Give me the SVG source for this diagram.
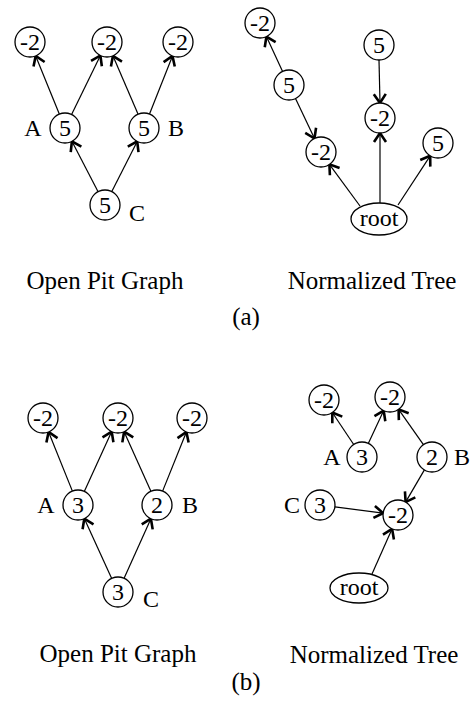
<svg xmlns="http://www.w3.org/2000/svg" width="471" height="706" viewBox="0 0 471 706">
<style>
.n{fill:#fff;stroke:#000;stroke-width:1.3}
.t{font-family:"Liberation Serif","Times New Roman",serif;font-size:24px;text-anchor:middle;fill:#000}
.lb{font-family:"Liberation Serif","Times New Roman",serif;font-size:24px;text-anchor:middle;fill:#000}
.cap{font-family:"Liberation Serif","Times New Roman",serif;font-size:25px;text-anchor:middle;fill:#000}
.e{stroke:#000;stroke-width:1.2;fill:none;marker-end:url(#ah)}
</style>
<defs>
<marker id="ah" markerUnits="userSpaceOnUse" markerWidth="16" markerHeight="16" refX="0" refY="0" viewBox="-12 -8 14 16" orient="auto">
<path d="M-9,-6 L0,0 L-9,6" fill="none" stroke="#000" stroke-width="2.6"/>
</marker>
</defs>
<rect width="471" height="706" fill="#fff"/>
<g id="connectors">
<line class="e" x1="59.3" y1="114.1" x2="35.7" y2="55.9"/>
<line class="e" x1="71.6" y1="114.5" x2="100.4" y2="55.5"/>
<line class="e" x1="138.1" y1="114.2" x2="112.9" y2="55.8"/>
<line class="e" x1="149.5" y1="114" x2="172.5" y2="56"/>
<line class="e" x1="98.1" y1="191.7" x2="71.9" y2="141.3"/>
<line class="e" x1="111.8" y1="191.6" x2="137.2" y2="141.4"/>
<line class="e" x1="282.6" y1="71.4" x2="266.4" y2="36.6"/>
<line class="e" x1="295.5" y1="98.5" x2="314.5" y2="138.5"/>
<line class="e" x1="379" y1="60" x2="380" y2="103"/>
<line class="e" x1="360" y1="206" x2="329.4" y2="164.4"/>
<line class="e" x1="380" y1="203" x2="380" y2="133"/>
<line class="e" x1="398" y1="205" x2="430.2" y2="155.8"/>
<line class="e" x1="72.4" y1="491.1" x2="48.6" y2="432"/>
<line class="e" x1="84.3" y1="491.4" x2="111.7" y2="431.6"/>
<line class="e" x1="150.9" y1="491.3" x2="124.1" y2="431.7"/>
<line class="e" x1="162.6" y1="491.1" x2="186.4" y2="432"/>
<line class="e" x1="111.7" y1="578.4" x2="84.3" y2="518.6"/>
<line class="e" x1="124.1" y1="578.3" x2="150.9" y2="518.7"/>
<line class="e" x1="353.7" y1="444.5" x2="332.3" y2="412.5"/>
<line class="e" x1="368.3" y1="443.4" x2="383.7" y2="410.6"/>
<line class="e" x1="423.4" y1="444.7" x2="398.6" y2="409.3"/>
<line class="e" x1="424.4" y1="469.9" x2="405.6" y2="502.1"/>
<line class="e" x1="334.9" y1="506.9" x2="383.1" y2="513.1"/>
<line class="e" x1="372" y1="574" x2="392.1" y2="528.8"/>
</g>
<g id="a-left">
<g id="a-l-n1"><circle class="n" cx="30" cy="42" r="15"/><text class="t" x="30" y="50">-2</text></g>
<g id="a-l-n2"><circle class="n" cx="107" cy="42" r="15"/><text class="t" x="107" y="50">-2</text></g>
<g id="a-l-n3"><circle class="n" cx="178" cy="42" r="15"/><text class="t" x="178" y="50">-2</text></g>
<g id="a-l-A"><circle class="n" cx="65" cy="128" r="15"/><text class="t" x="65" y="136">5</text><text class="lb" x="33" y="136">A</text></g>
<g id="a-l-B"><circle class="n" cx="144" cy="128" r="15"/><text class="t" x="144" y="136">5</text><text class="lb" x="176" y="136">B</text></g>
<g id="a-l-C"><circle class="n" cx="105" cy="205" r="15"/><text class="t" x="105" y="213">5</text><text class="lb" x="137" y="221">C</text></g>
</g>
<g id="a-right">
<g id="a-r-tl"><circle class="n" cx="260" cy="23" r="15"/><text class="t" x="260" y="31">-2</text></g>
<g id="a-r-m5"><circle class="n" cx="289" cy="85" r="15"/><text class="t" x="289" y="93">5</text></g>
<g id="a-r-t5"><circle class="n" cx="379" cy="45" r="15"/><text class="t" x="379" y="53">5</text></g>
<g id="a-r-mid"><circle class="n" cx="380" cy="118" r="15"/><text class="t" x="380" y="126">-2</text></g>
<g id="a-r-ll"><circle class="n" cx="321" cy="152" r="15"/><text class="t" x="321" y="160">-2</text></g>
<g id="a-r-r5"><circle class="n" cx="438" cy="143" r="15"/><text class="t" x="438" y="151">5</text></g>
<g id="a-r-root"><ellipse class="n" cx="379" cy="219" rx="28" ry="16"/><text class="t" x="379" y="226">root</text></g>
</g>
<g id="b-left">
<g id="b-l-n1"><circle class="n" cx="43" cy="418" r="15"/><text class="t" x="43" y="426">-2</text></g>
<g id="b-l-n2"><circle class="n" cx="118" cy="418" r="15"/><text class="t" x="118" y="426">-2</text></g>
<g id="b-l-n3"><circle class="n" cx="192" cy="418" r="15"/><text class="t" x="192" y="426">-2</text></g>
<g id="b-l-A"><circle class="n" cx="78" cy="505" r="15"/><text class="t" x="78" y="513">3</text><text class="lb" x="46" y="513">A</text></g>
<g id="b-l-B"><circle class="n" cx="157" cy="505" r="15"/><text class="t" x="157" y="513">2</text><text class="lb" x="190" y="513">B</text></g>
<g id="b-l-C"><circle class="n" cx="118" cy="592" r="15"/><text class="t" x="118" y="600">3</text><text class="lb" x="151" y="607">C</text></g>
</g>
<g id="b-right">
<g id="b-r-tl"><circle class="n" cx="324" cy="400" r="15"/><text class="t" x="324" y="408">-2</text></g>
<g id="b-r-tr"><circle class="n" cx="390" cy="397" r="15"/><text class="t" x="390" y="405">-2</text></g>
<g id="b-r-A"><circle class="n" cx="362" cy="457" r="15"/><text class="t" x="362" y="465">3</text><text class="lb" x="332" y="465">A</text></g>
<g id="b-r-B"><circle class="n" cx="432" cy="457" r="15"/><text class="t" x="432" y="465">2</text><text class="lb" x="462" y="465">B</text></g>
<g id="b-r-C"><circle class="n" cx="320" cy="505" r="15"/><text class="t" x="320" y="513">3</text><text class="lb" x="292" y="513">C</text></g>
<g id="b-r-low"><circle class="n" cx="398" cy="515" r="15"/><text class="t" x="398" y="523">-2</text></g>
<g id="b-r-root"><ellipse class="n" cx="359" cy="588" rx="29" ry="15"/><text class="t" x="359" y="595">root</text></g>
</g>
<g id="captions">
<text class="cap" x="105" y="289">Open Pit Graph</text>
<text class="cap" x="372" y="289">Normalized Tree</text>
<text class="cap" x="246" y="325">(a)</text>
<text class="cap" x="118" y="662">Open Pit Graph</text>
<text class="cap" x="374" y="663">Normalized Tree</text>
<text class="cap" x="246" y="690">(b)</text>
</g>
</svg>
